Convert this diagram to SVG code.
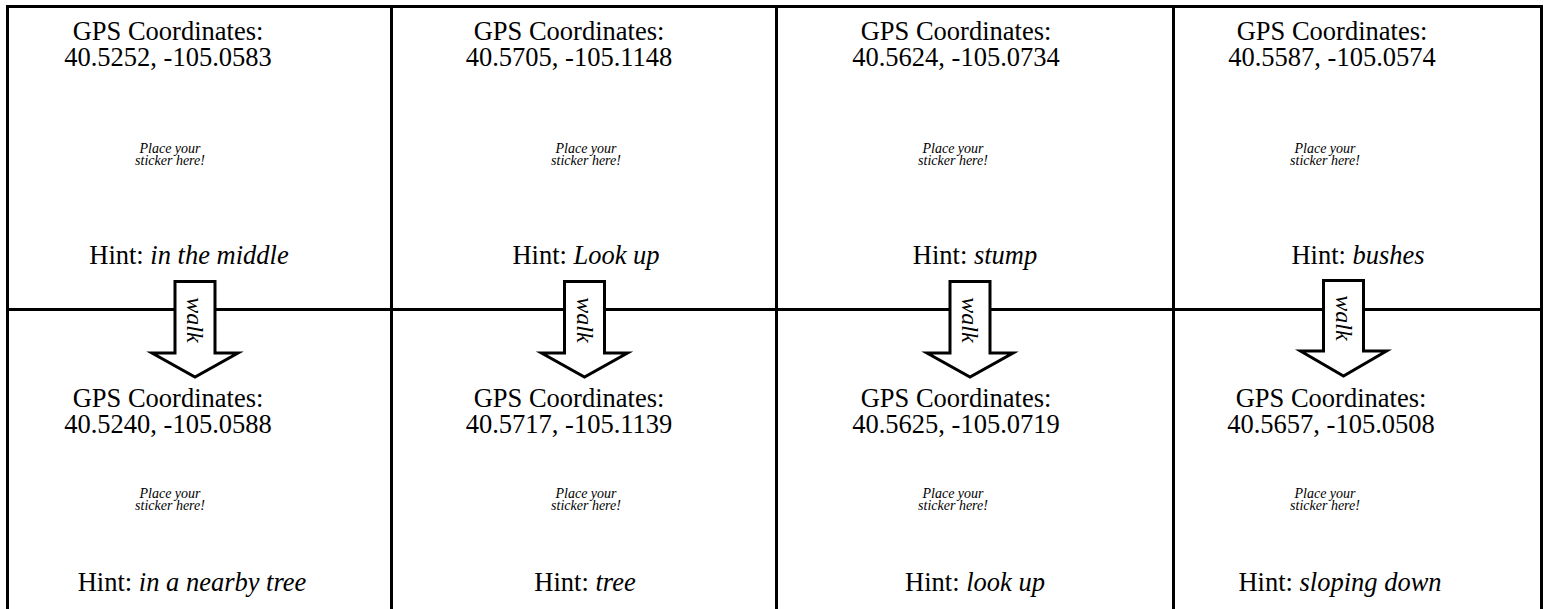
<svg xmlns="http://www.w3.org/2000/svg" width="1547" height="609" viewBox="0 0 1547 609">
<style>
text{font-family:'Liberation Serif','DejaVu Serif','Times New Roman',serif;fill:#000;text-anchor:middle}
.t{font-size:26.5px}
.p{font-size:14px;font-style:italic}
.i{font-style:italic}
.w{font-size:24px;font-style:italic;dominant-baseline:central}
.g{stroke:#000;stroke-width:3;fill:none}
.a{stroke:#000;stroke-width:3;fill:#fff;stroke-linejoin:miter}
</style>
<rect width="1547" height="609" fill="#fff"/>
<g id="grid" class="g">
<path d="M7.5,609 V6.5 H1541.5 V609"/>
<path d="M391.5,6.5 V609 M776.5,6.5 V609 M1173.5,6.5 V609"/>
<path d="M7.5,309.5 H1541.5"/>
</g>
<g id="cell-1-1">
<text class="t" x="168" y="40">GPS Coordinates:</text>
<text class="t" x="168" y="66">40.5252, -105.0583</text>
<text class="p" x="170" y="153">Place your</text>
<text class="p" x="170" y="165">sticker here!</text>
<text class="t" x="189" y="264">Hint: <tspan class="i">in the middle</tspan></text>
</g>
<g id="cell-1-2">
<text class="t" x="569" y="40">GPS Coordinates:</text>
<text class="t" x="569" y="66">40.5705, -105.1148</text>
<text class="p" x="586" y="153">Place your</text>
<text class="p" x="586" y="165">sticker here!</text>
<text class="t" x="586" y="264">Hint: <tspan class="i">Look up</tspan></text>
</g>
<g id="cell-1-3">
<text class="t" x="956" y="40">GPS Coordinates:</text>
<text class="t" x="956" y="66">40.5624, -105.0734</text>
<text class="p" x="953" y="153">Place your</text>
<text class="p" x="953" y="165">sticker here!</text>
<text class="t" x="975" y="264">Hint: <tspan class="i">stump</tspan></text>
</g>
<g id="cell-1-4">
<text class="t" x="1332" y="40">GPS Coordinates:</text>
<text class="t" x="1332" y="66">40.5587, -105.0574</text>
<text class="p" x="1325" y="153">Place your</text>
<text class="p" x="1325" y="165">sticker here!</text>
<text class="t" x="1358" y="264">Hint: <tspan class="i">bushes</tspan></text>
</g>
<g id="cell-2-1">
<text class="t" x="168" y="407">GPS Coordinates:</text>
<text class="t" x="168" y="433">40.5240, -105.0588</text>
<text class="p" x="170" y="498">Place your</text>
<text class="p" x="170" y="510">sticker here!</text>
<text class="t" x="192" y="591">Hint: <tspan class="i">in a nearby tree</tspan></text>
</g>
<g id="cell-2-2">
<text class="t" x="569" y="407">GPS Coordinates:</text>
<text class="t" x="569" y="433">40.5717, -105.1139</text>
<text class="p" x="586" y="498">Place your</text>
<text class="p" x="586" y="510">sticker here!</text>
<text class="t" x="585" y="591">Hint: <tspan class="i">tree</tspan></text>
</g>
<g id="cell-2-3">
<text class="t" x="956" y="407">GPS Coordinates:</text>
<text class="t" x="956" y="433">40.5625, -105.0719</text>
<text class="p" x="953" y="498">Place your</text>
<text class="p" x="953" y="510">sticker here!</text>
<text class="t" x="975" y="591">Hint: <tspan class="i">look up</tspan></text>
</g>
<g id="cell-2-4">
<text class="t" x="1331" y="407">GPS Coordinates:</text>
<text class="t" x="1331" y="433">40.5657, -105.0508</text>
<text class="p" x="1325" y="498">Place your</text>
<text class="p" x="1325" y="510">sticker here!</text>
<text class="t" x="1340" y="591">Hint: <tspan class="i">sloping down</tspan></text>
</g>
<g id="connectors">
<g id="arrow-1">
<path class="a" d="M175,281.5 H215 V353 H238 L195,377 L152,353 H175 Z"/>
<text class="w" transform="translate(195,320) rotate(90)">walk</text>
</g>
<g id="arrow-2">
<path class="a" d="M564.5,281.5 H604.5 V353 H627.5 L584.5,377 L541.5,353 H564.5 Z"/>
<text class="w" transform="translate(584.5,320) rotate(90)">walk</text>
</g>
<g id="arrow-3">
<path class="a" d="M950,281.5 H990 V353 H1013 L970,377 L927,353 H950 Z"/>
<text class="w" transform="translate(970,320) rotate(90)">walk</text>
</g>
<g id="arrow-4">
<path class="a" d="M1323.5,280.5 H1363.5 V351 H1386.5 L1343.5,376 L1300.5,351 H1323.5 Z"/>
<text class="w" transform="translate(1343.5,318) rotate(90)">walk</text>
</g>
</g>
</svg>
